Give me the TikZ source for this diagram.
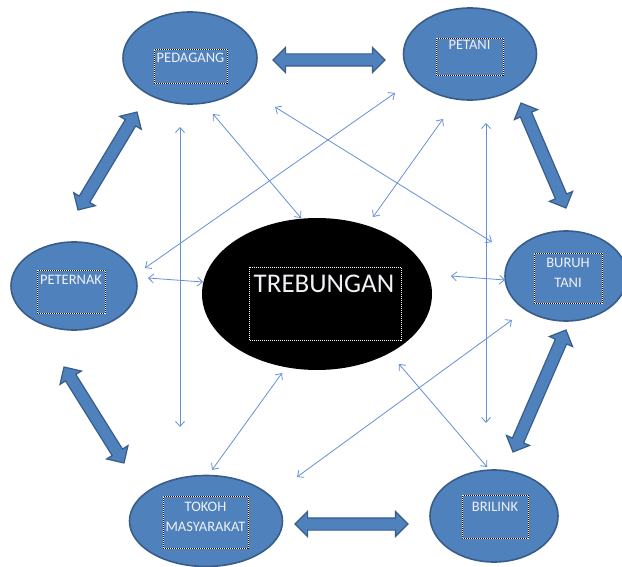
\documentclass[tikz,border=0pt]{standalone}
\usepackage{fontspec}
\setmainfont{Carlito}
\usetikzlibrary{shapes.geometric,shapes.arrows,arrows.meta,calc}
\definecolor{nodeblue}{RGB}{79,129,189}
\definecolor{nodeedge}{RGB}{56,93,138}
\definecolor{thinblue}{RGB}{100,145,210}
\definecolor{txt}{RGB}{240,240,245}
\tikzset{
  bubble/.style={ellipse, fill=nodeblue, draw=nodeedge, line width=1.6pt, inner sep=0pt},
  frame/.style={rectangle, draw=black, line width=0.8pt, dash pattern=on 1pt off 1pt, inner sep=0pt,
     postaction={draw=white, line width=0.8pt, dash pattern=on 1pt off 1pt, dash phase=1pt}},
  lbl/.style={text=txt, font=\fontsize{14.5}{20}\selectfont, align=center, inner sep=0pt},
  blockarrow/.style={double arrow, fill=nodeblue, draw=nodeedge, line width=1.2pt,
     inner xsep=0pt, inner ysep=5.5pt, minimum width=25pt, double arrow head extend=6.5pt},
  conn/.style={draw=thinblue, line width=0.8pt, {Straight Barb[length=5pt,width=9pt]}-{Straight Barb[length=5pt,width=9pt]}}
}
\begin{document}
\begin{tikzpicture}[x=1pt,y=-1pt]
\useasboundingbox (0,0) rectangle (622,567);
\begin{scope}
\clip (0,0) rectangle (622,567);
% ellipses
\node[bubble, minimum width=134pt, minimum height=92pt] (ped) at (190,58) {};
\node[bubble, minimum width=133pt, minimum height=92pt] (pet) at (470,54) {};
\node[bubble, minimum width=126pt, minimum height=88pt] (ptk) at (74,286) {};
\node[bubble, minimum width=122pt, minimum height=90pt] (bt) at (566,276) {};
\node[ellipse, fill=black, inner sep=0pt, minimum width=230pt, minimum height=152pt] (tre) at (317,294) {};
\node[bubble, minimum width=153pt, minimum height=91pt] (tok) at (206,521) {};
\node[bubble, minimum width=128pt, minimum height=92pt] (bri) at (494,516) {};
\end{scope}

% text frames
\node[frame, minimum width=73pt, minimum height=34pt] (fped) at (190.5,66) {};
\node[frame, minimum width=67pt, minimum height=37pt] (fpet) at (469.5,56.5) {};
\node[frame, minimum width=68pt, minimum height=43pt] (fptk) at (71,291.5) {};
\node[frame, minimum width=68pt, minimum height=50pt] (fbt) at (568,278) {};
\node[frame, minimum width=152pt, minimum height=73pt] (ftre) at (325,303.5) {};
\node[frame, minimum width=85pt, minimum height=52pt] (ftok) at (205.5,522) {};
\node[frame, minimum width=66pt, minimum height=43pt] (fbri) at (495,516.5) {};

% labels
\node[lbl] (tped) at (190.5,58) {PEDAGANG};
\node[lbl] (tpet) at (469.5,45) {PETANI};
\node[lbl] (tptk) at (71,280) {PETERNAK};
\node[lbl] (tbt) at (568,273) {BURUH\\TANI};
\node[lbl] (ttok) at (205.5,517) {TOKOH\\MASYARAKAT};
\node[lbl] (tbri) at (495,507) {BRILINK};
\node[lbl, font=\fontsize{27}{30}\selectfont] (ttre) at (324,284) {TREBUNGAN};

% block arrows
\coordinate (b1a) at (273,60);  \coordinate (b1b) at (385,60);
\coordinate (b2a) at (295,524); \coordinate (b2b) at (408,524);
\coordinate (b3a) at (137,112); \coordinate (b3b) at (78,210);
\coordinate (b4a) at (64,367);  \coordinate (b4b) at (124,463);
\coordinate (b5a) at (521,103); \coordinate (b5b) at (566,208);
\coordinate (b6a) at (566,330); \coordinate (b6b) at (513,452);
\foreach \s in {1,...,6}{
  \path let \p1=($(b\s b)-(b\s a)$), \n1={veclen(\x1,\y1)} in
    (b\s a) -- (b\s b) node[midway, sloped, blockarrow, minimum height=\n1] (ba\s) {};
}

% thin arrows
\coordinate (t1a) at (180,127); \coordinate (t1b) at (180,427);
\coordinate (t2a) at (213,114); \coordinate (t2b) at (301,218);
\coordinate (t3a) at (275,107); \coordinate (t3b) at (492,242);
\coordinate (t4a) at (395,93);  \coordinate (t4b) at (145,268);
\coordinate (t5a) at (443,119); \coordinate (t5b) at (373,217);
\coordinate (t6a) at (486,123); \coordinate (t6b) at (486,423);
\coordinate (t7a) at (148,278); \coordinate (t7b) at (203,282);
\coordinate (t8a) at (451,276); \coordinate (t8b) at (505,280);
\coordinate (t9a) at (212,470); \coordinate (t9b) at (282,373);
\coordinate (t10a) at (297,477); \coordinate (t10b) at (512,320);
\coordinate (t11a) at (399,364); \coordinate (t11b) at (487,467);
\foreach \s in {1,...,11}{
  \draw[conn] (t\s a) -- (t\s b);
}
\end{tikzpicture}
\end{document}
